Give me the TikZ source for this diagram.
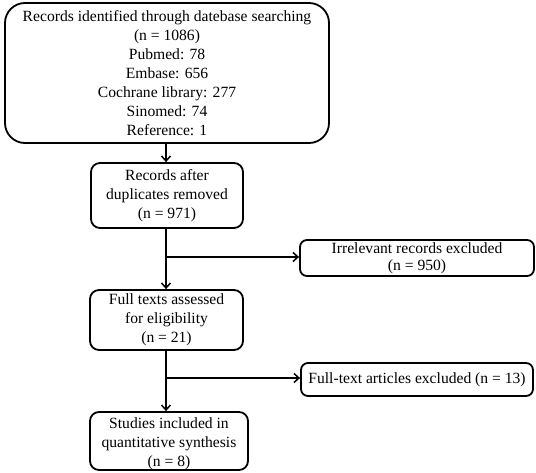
\documentclass[tikz,border=0pt]{standalone}
\usepackage{fontspec}
\setmainfont{Liberation Serif}
\usetikzlibrary{arrows.meta}
\begin{document}
\begin{tikzpicture}[x=1pt,y=-1pt,
  box/.style={draw, line width=1.8pt, align=center, inner sep=0pt,
    font=\fontsize{15.6}{19}\selectfont},
  txt/.style={align=center, inner sep=0pt, font=\fontsize{15.6}{19}\selectfont},
  conn/.style={line width=1.8pt, -{Straight Barb[length=5pt,width=9pt,line width=1.5pt]}},
  plain/.style={line width=1.8pt}]
\useasboundingbox (0,0) rectangle (536,472);
\node[box, rounded corners=20pt, minimum width=324pt, minimum height=140pt] (top) at (167,73)
  {Records identified through datebase searching\\(n = 1086)\\Pubmed: 78\\Embase: 656\\Cochrane library: 277\\Sinomed: 74\\Reference: 1};
\node[box, rounded corners=9pt, minimum width=152pt, minimum height=65pt] (dup) at (167,195.5)
  {Records after\\duplicates removed\\(n = 971)};
\node[box, rounded corners=9pt, minimum width=153pt, minimum height=60pt] (full) at (166.5,320)
  {Full texts assessed\\for eligibility\\(n = 21)};
\node[box, rounded corners=7pt, minimum width=234pt, minimum height=36pt,
  font=\fontsize{15.6}{17}\selectfont] (irr) at (417,258)
  {Irrelevant records excluded\\(n = 950)};
\node[box, rounded corners=7pt, minimum width=232pt, minimum height=33pt] (exc) at (417,379.5)
  {Full-text articles excluded (n = 13)};
\node[box, rounded corners=9pt, minimum width=158pt, minimum height=58pt] (inc) at (169,441) {};
\node[txt] (inctext) at ([yshift=-3pt]inc.center)
  {Studies included in\\quantitative synthesis\\(n = 8)};
\coordinate (j1) at (166,257);
\coordinate (j2) at (166,378);
\draw[conn] (top.south -| j1) -- (dup.north -| j1);
\draw[plain] (dup.south -| j1) -- (j1);
\draw[conn] (j1) -- (full.north -| j1);
\draw[conn] (j1) -- (j1 -| irr.west);
\draw[plain] (full.south -| j2) -- (j2);
\draw[conn] (j2) -- (inc.north -| j2);
\draw[conn] (j2) -- (j2 -| exc.west);
\end{tikzpicture}
\end{document}
